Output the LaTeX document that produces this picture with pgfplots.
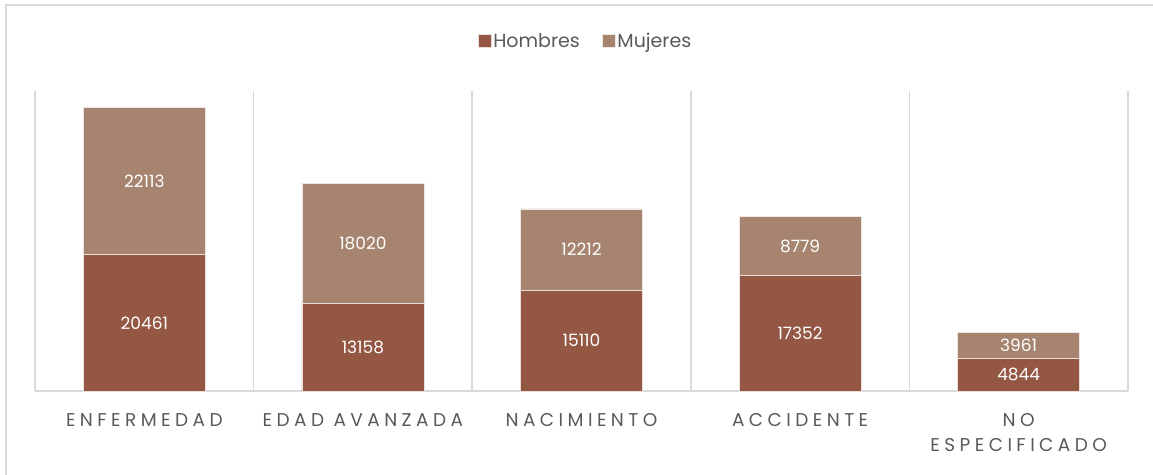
\documentclass[border=0pt]{standalone}
\usepackage{fontspec}
\setmainfont{Poppins}
\newfontfamily\catfont[LetterSpace=24]{Poppins}
\usepackage{pgfplots}
\usepackage{pgfplotstable}
\pgfplotsset{compat=1.18}
\definecolor{hom}{RGB}{148,87,67}
\definecolor{muj}{RGB}{166,132,111}
\definecolor{gridc}{RGB}{217,217,217}
\definecolor{txt}{RGB}{89,89,89}

\pgfplotstableread{
x h m
0 20461 22113
1 13158 18020
2 15110 12212
3 17352 8779
4 4844 3961
}\data

\begin{document}
\begin{tikzpicture}[x=1pt,y=1pt]
\useasboundingbox (0,0) rectangle (1153,474);
\draw[gridc, line width=1.5pt] (6,-5) -- (6,469) -- (1160,469);
\begin{axis}[
  at={(35pt,83pt)}, anchor=south west,
  scale only axis, width=1093pt, height=300pt,
  xmin=-0.5, xmax=4.5, ymin=0, ymax=45000,
  ybar stacked, bar width=122pt,
  axis x line*=bottom, axis y line=none,
  x axis line style={draw=gridc, line width=1.5pt, -},
  xtick={0,1,2,3,4},
  xticklabels={ENFERMEDAD, EDAD AVANZADA, NACIMIENTO, ACCIDENTE, {NO\\ESPECIFICADO}},
  xticklabel style={font=\catfont\fontsize{18.5}{25}\selectfont, text=txt, align=center, inner sep=0pt, yshift=-22pt},
  major tick length=0pt, minor tick length=0pt,
  minor xtick={-0.5,0.5,1.5,2.5,3.5,4.5},
  xminorgrids=true,
  minor grid style={draw=gridc, line width=1.5pt},
  ytick=\empty,
  clip=false,
  legend style={at={(axis description cs:0.5,1)}, anchor=center, yshift=50pt, xshift=4pt,
    draw=none, fill=none, font=\fontsize{19}{21}\selectfont, text=txt,
    legend columns=2, /tikz/every even column/.append style={column sep=20pt}},
  legend image code/.code={\fill[#1] (0pt,-6.5pt) rectangle (13pt,6.5pt);},
]
\addplot[fill=hom, draw=white!80!hom, line width=0.6pt] table[x=x, y=h] {\data};
\addlegendentry{Hombres}
\addplot[fill=muj, draw=white!80!muj, line width=0.6pt] table[x=x, y=m] {\data};
\addlegendentry{Mujeres}
\end{axis}
\begin{axis}[
  at={(35pt,83pt)}, anchor=south west,
  scale only axis, width=1093pt, height=300pt,
  xmin=-0.5, xmax=4.5, ymin=0, ymax=45000,
  hide axis, clip=false,
  nodes near coords, point meta=explicit symbolic,
  every node near coord/.append style={anchor=center, text=white, font=\fontsize{17}{17}\selectfont, inner sep=0pt},
]
\addplot[draw=none, no markers] table[x=x, y expr=\thisrow{h}/2, meta=h] {\data};
\addplot[draw=none, no markers] table[x=x, y expr=\thisrow{h}+\thisrow{m}/2, meta=m] {\data};
\end{axis}
\end{tikzpicture}
\end{document}
